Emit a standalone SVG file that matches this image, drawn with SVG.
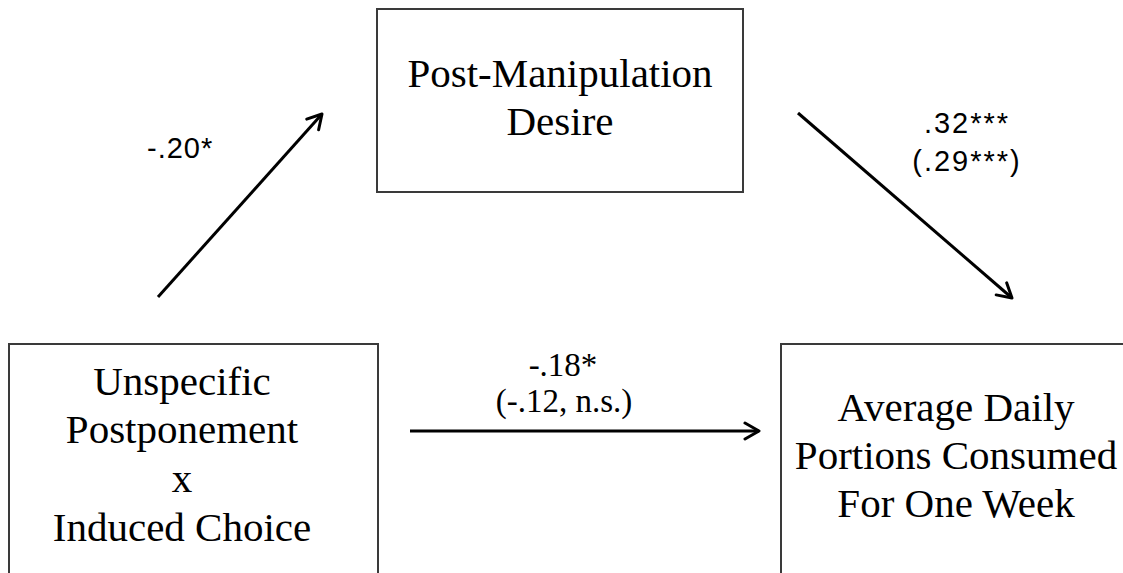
<svg xmlns="http://www.w3.org/2000/svg" width="1123" height="573" viewBox="0 0 1123 573">
<style>
.box{fill:#fff;stroke:#3a3a3a;stroke-width:2}
.nt{font-family:"Liberation Serif","Times New Roman",serif;font-size:41px;fill:#000;text-anchor:middle}
.ls{font-family:"Liberation Sans",Arial,sans-serif;font-size:29px;fill:#000}
.lt{font-family:"Liberation Serif","Times New Roman",serif;font-size:33px;fill:#000;text-anchor:middle}
.conn{stroke:#000;stroke-width:3;fill:none;marker-end:url(#arr)}
</style>
<defs>
<marker id="arr" markerUnits="userSpaceOnUse" viewBox="-16 -10 18 20" refX="0" refY="0" markerWidth="18" markerHeight="20" orient="auto">
<polyline points="-14,-8 0,0 -14,8" fill="none" stroke="#000" stroke-width="3" stroke-linecap="round" stroke-linejoin="round"/>
</marker>
</defs>
<rect width="1123" height="573" fill="#fff"/>
<g id="node-desire">
<rect class="box" x="377" y="9" width="366" height="183"/>
<text class="nt" x="560" y="87">Post-Manipulation</text>
<text class="nt" x="560" y="135">Desire</text>
</g>
<g id="node-postponement">
<rect class="box" x="9" y="344" width="369" height="240"/>
<text class="nt" x="182" y="395">Unspecific</text>
<text class="nt" x="182" y="443">Postponement</text>
<text class="nt" x="182" y="492">x</text>
<text class="nt" x="182" y="541">Induced Choice</text>
</g>
<g id="node-portions">
<rect class="box" x="781" y="344" width="360" height="240"/>
<text class="nt" x="956" y="421">Average Daily</text>
<text class="nt" x="956" y="469">Portions Consumed</text>
<text class="nt" x="956" y="517">For One Week</text>
</g>
<g id="connectors">
<line class="conn" x1="158" y1="297" x2="322" y2="114"/>
<line class="conn" x1="798" y1="113" x2="1012" y2="298"/>
<line class="conn" x1="410" y1="431" x2="759" y2="431"/>
<text class="ls" x="147" y="158" letter-spacing="1">-.20*</text>
<text class="ls" x="967" y="133" text-anchor="middle" letter-spacing="2">.32***</text>
<text class="ls" x="967" y="171" text-anchor="middle" letter-spacing="2">(.29***)</text>
<text class="lt" x="563" y="376">-.18*</text>
<text class="lt" x="564" y="412">(-.12, n.s.)</text>
</g>
</svg>
